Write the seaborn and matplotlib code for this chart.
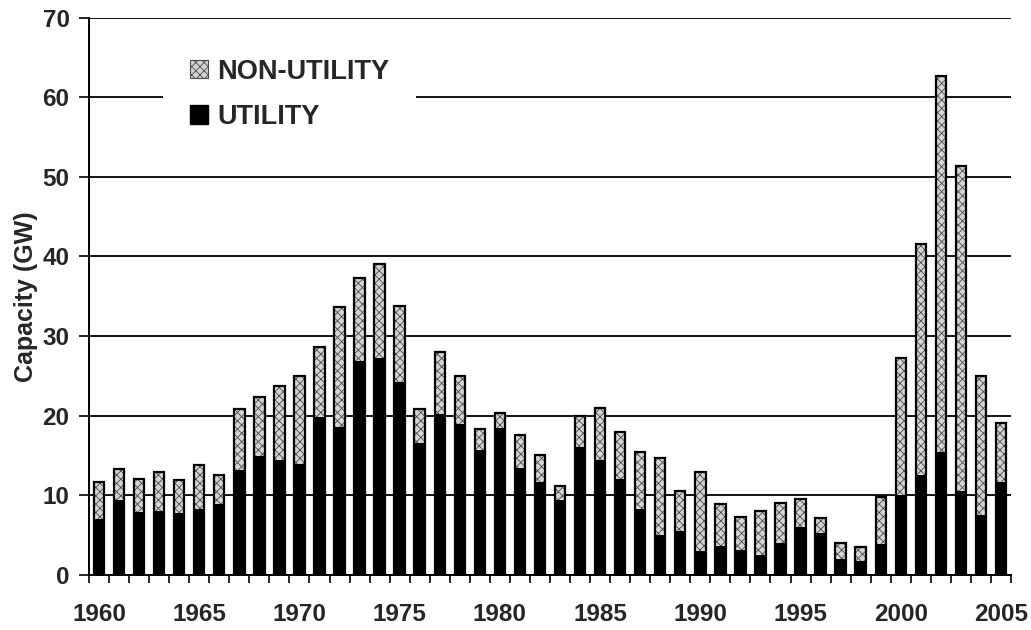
import numpy as np
import pandas as pd
import seaborn as sns
import matplotlib.pyplot as plt
from matplotlib.patches import Patch

# capacidade adicionada por ano (GW)
years = list(range(1960, 2006))
utility = [7.0, 9.4, 7.9, 8.0, 7.8, 8.3, 8.9, 13.2, 14.9, 14.4,
           14.0, 19.8, 18.6, 26.9, 27.3, 24.2, 16.6, 20.2, 18.9, 15.7,
           18.4, 13.4, 11.7, 9.4, 16.1, 14.5, 12.1, 8.3, 5.0, 5.5,
           3.0, 3.7, 3.2, 2.5, 4.0, 6.0, 5.3, 2.0, 1.8, 3.9,
           10.0, 12.5, 15.5, 10.5, 7.5, 11.7]
non_utility = [4.7, 3.9, 4.1, 4.9, 4.1, 5.5, 3.7, 7.7, 7.5, 9.3,
               11.0, 8.8, 15.0, 10.4, 11.7, 9.6, 4.2, 7.8, 6.1, 2.6,
               2.0, 4.2, 3.4, 1.8, 3.9, 6.5, 5.9, 7.2, 9.7, 5.1,
               9.9, 5.2, 4.1, 5.5, 5.1, 3.6, 1.9, 2.0, 1.7, 5.9,
               17.2, 29.1, 47.2, 40.8, 17.5, 7.4]
yticks = [0, 10, 20, 30, 40, 50, 60, 70]
xtick_years = [1960, 1965, 1970, 1975, 1980, 1985, 1990, 1995, 2000, 2005]

df = pd.DataFrame({'ano': years, 'utility': utility, 'non_utility': non_utility})
df['total'] = df['utility'] + df['non_utility']

sns.set_style('white')
plt.rcParams['font.family'] = ['Liberation Sans', 'DejaVu Sans']
plt.rcParams['font.weight'] = 'bold'
plt.rcParams['hatch.linewidth'] = 0.6

fig = plt.figure(figsize=(10.31, 6.30), dpi=100)
ax = fig.add_axes([0.0863, 0.0873, 0.8943, 0.8849])

w = 0.52
# camada hachurada (non-utility) = total
sns.barplot(data=df, x='ano', y='total', color='#d4d4d4', saturation=1,
            width=w, hatch='xxxx', edgecolor='#4a4a4a', linewidth=0, ax=ax, zorder=2)
# utility em preto por cima
sns.barplot(data=df, x='ano', y='utility', color='black', saturation=1,
            width=w, edgecolor='black', linewidth=0, ax=ax, zorder=3)
# contorno preto das barras
sns.barplot(data=df, x='ano', y='total', fill=False, saturation=1,
            width=w, edgecolor='black', linewidth=1.6, ax=ax, zorder=4)

ax.set_ylim(0, 70)
ax.set_xlim(-0.5, len(years) - 0.5)
ax.set_yticks(yticks)
ax.set_yticklabels([str(v) for v in yticks], fontsize=17.5, fontweight='bold')
ax.yaxis.grid(True, color='black', linewidth=1.3, zorder=0)
ax.set_axisbelow(True)

pos = [years.index(y) for y in xtick_years]
ax.set_xticks(pos)
ax.set_xticklabels([str(y) for y in xtick_years], fontsize=17.5, fontweight='bold')
ax.set_xticks(np.arange(-0.5, len(years), 1.0), minor=True)
ax.tick_params(axis='x', which='major', length=0, pad=20)
ax.tick_params(axis='x', which='minor', direction='out', length=6, width=1.2, color='black', bottom=True)
ax.tick_params(axis='y', direction='out', length=7, width=1.2, color='black', left=True, pad=7)

ax.set_xlabel('')
ax.set_ylabel('Capacity (GW)', fontsize=18, fontweight='bold', labelpad=3)

for s in ['top', 'right']:
    ax.spines[s].set_visible(False)
ax.spines['left'].set_linewidth(1.4)
ax.spines['bottom'].set_linewidth(1.4)
ax.spines['left'].set_color('black')
ax.spines['bottom'].set_color('black')

handles = [Patch(facecolor='#d4d4d4', hatch='xxxx', edgecolor='#4a4a4a', linewidth=0.8, label='NON-UTILITY'),
           Patch(facecolor='black', edgecolor='black', label='UTILITY')]
leg = ax.legend(handles=handles, loc='upper left', bbox_to_anchor=(0.080, 0.975),
                prop={'size': 19.5, 'weight': 'bold'}, frameon=True, fancybox=False,
                handlelength=0.67, handleheight=0.67, handletextpad=0.33,
                labelspacing=0.72, borderpad=1.0, borderaxespad=0)
leg.get_frame().set_facecolor('white')
leg.get_frame().set_edgecolor('none')
leg.get_frame().set_alpha(1)
leg.set_zorder(5)

plt.savefig('out.png', dpi=100)
